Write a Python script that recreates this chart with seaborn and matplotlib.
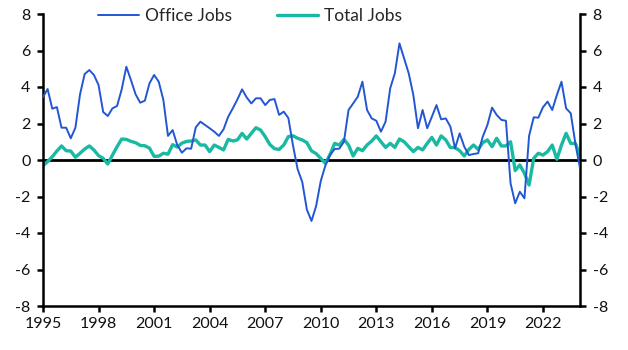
import numpy as np
import pandas as pd
import matplotlib
matplotlib.use("Agg")
import matplotlib.pyplot as plt
import seaborn as sns

# Quarterly data, 1995Q1 - 2024Q1
start_year = 1995
office_jobs = [
    3.45, 3.89, 2.81, 2.9, 1.77, 1.77, 1.19, 1.77, 3.6, 4.71,
    4.93, 4.66, 4.11, 2.63, 2.41, 2.83, 2.96, 3.87, 5.11, 4.38,
    3.6, 3.14, 3.25, 4.2, 4.66, 4.29, 3.29, 1.32, 1.64, 0.82,
    0.4, 0.64, 0.62, 1.79, 2.1, 1.92, 1.74, 1.55, 1.32, 1.68,
    2.37, 2.83, 3.32, 3.87, 3.43, 3.1, 3.38, 3.38, 3.01, 3.29,
    3.34, 2.47, 2.65, 2.3, 0.8, -0.5, -1.2, -2.72, -3.34, -2.52,
    -1.15, -0.3, 0.27, 0.6, 0.62, 1.0, 2.74, 3.1, 3.47, 4.29,
    2.74, 2.28, 2.15, 1.55, 2.1, 3.93, 4.75, 6.39, 5.57, 4.75,
    3.56, 1.74, 2.74, 1.74, 2.37, 3.01, 2.23, 2.28, 1.83, 0.64,
    1.46, 0.73, 0.27, 0.33, 0.37, 1.28, 1.92, 2.87, 2.47, 2.2,
    2.15, -1.28, -2.37, -1.74, -2.1, 1.32, 2.34, 2.32, 2.89, 3.2,
    2.74, 3.56, 4.29, 2.83, 2.56, 0.9, -0.45,
]
total_jobs = [
    -0.31, -0.09, 0.18, 0.49, 0.77, 0.51, 0.49, 0.15, 0.37, 0.6,
    0.77, 0.55, 0.24, 0.09, -0.22, 0.27, 0.73, 1.15, 1.13, 1.02,
    0.95, 0.8, 0.78, 0.65, 0.2, 0.21, 0.37, 0.32, 0.84, 0.71,
    0.92, 1.02, 1.04, 1.1, 0.82, 0.82, 0.46, 0.82, 0.69, 0.55,
    1.13, 1.04, 1.1, 1.46, 1.15, 1.46, 1.77, 1.64, 1.28, 0.85,
    0.62, 0.58, 0.82, 1.28, 1.33, 1.19, 1.1, 0.95, 0.5, 0.35,
    0.09, -0.18, 0.3, 0.91, 0.82, 1.13, 0.82, 0.22, 0.64, 0.51,
    0.82, 1.04, 1.32, 1.0, 0.69, 0.91, 0.69, 1.15, 1.0, 0.73,
    0.46, 0.69, 0.55, 0.91, 1.24, 0.82, 1.32, 1.1, 0.68, 0.68,
    0.51, 0.22, 0.58, 0.82, 0.58, 0.95, 1.1, 0.73, 1.19, 0.77,
    0.77, 1.0, -0.58, -0.27, -0.73, -1.37, 0.09, 0.37, 0.27, 0.46,
    0.82, 0.04, 0.82, 1.46, 0.91, 0.91, 0.27,
]
x_ticks = [1995, 1998, 2001, 2004, 2007, 2010, 2013, 2016, 2019, 2022]
y_ticks = [-8, -6, -4, -2, 0, 2, 4, 6, 8]

n = len(office_jobs)
dates = start_year + np.arange(n) / 4.0
df = pd.DataFrame({"date": dates, "Office Jobs": office_jobs, "Total Jobs": total_jobs})

sns.set_style("ticks")
plt.rcParams["font.family"] = ["Lato", "DejaVu Sans"]
plt.rcParams["axes.unicode_minus"] = False

fig = plt.figure(figsize=(6.28, 3.5), dpi=100)
ax = fig.add_axes([43 / 628, 44 / 350, 537 / 628, 292 / 350])

ax.axhline(0, color="black", lw=2.0, zorder=1)
sns.lineplot(data=df, x="date", y="Office Jobs", ax=ax, color="#2356D2", lw=1.4,
             label="Office Jobs", zorder=3)
sns.lineplot(data=df, x="date", y="Total Jobs", ax=ax, color="#19B9A2", lw=2.4,
             label="Total Jobs", zorder=2)

ax.set_xlim(1995, 2024)
ax.set_ylim(-8, 8)
ax.set_xticks(x_ticks)
ax.set_xticklabels([str(t) for t in x_ticks])
ax.set_yticks(y_ticks)
ax.set_yticklabels([str(t) for t in y_ticks])
ax.set_xlabel("")
ax.set_ylabel("")

for side in ["left", "right", "bottom"]:
    ax.spines[side].set_visible(True)
    ax.spines[side].set_linewidth(1.8)
    ax.spines[side].set_color("black")
ax.spines["top"].set_visible(False)

ax.tick_params(axis="both", which="major", direction="out", length=4, width=1.8,
               colors="black", labelsize=11.5, labelcolor="#111111")
ax.tick_params(axis="y", left=True, right=True, labelleft=True, labelright=True, pad=5)
ax.tick_params(axis="x", pad=4)

leg = ax.legend(loc="upper center", bbox_to_anchor=(0.385, 1.075), ncol=2, frameon=False,
                fontsize=12.5, handlelength=2.4, handletextpad=0.3, columnspacing=2.6)

fig.savefig("out.png", dpi=100)
